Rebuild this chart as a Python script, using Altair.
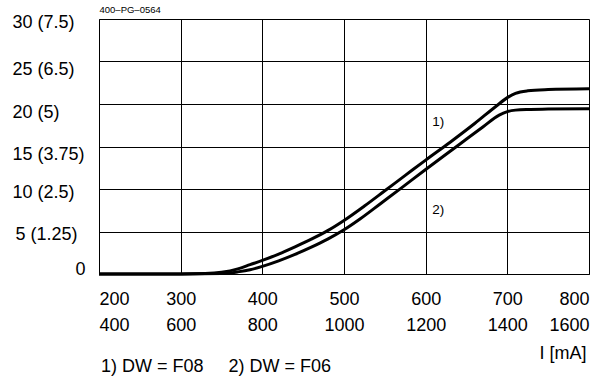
import altair as alt
import pandas as pd

# Curve 1) DW = F08 (upper)
I1 = [200, 300, 330, 350, 370, 385, 400, 420, 440, 460, 480, 500, 525, 550, 575, 600, 630, 660, 687, 700, 710, 725, 750, 800]
V1 = [0, 0, 0.05, 0.2, 0.6, 1.1, 1.6, 2.35, 3.2, 4.1, 5.1, 6.3, 8.0, 9.8, 11.6, 13.4, 15.5, 17.7, 19.8, 20.75, 21.25, 21.55, 21.7, 21.8]
# Curve 2) DW = F06 (lower)
I2 = [200, 300, 350, 370, 385, 400, 420, 440, 460, 480, 500, 520, 545, 570, 600, 642, 670, 690, 700, 710, 725, 750, 800]
V2 = [0, 0, 0.05, 0.25, 0.5, 0.9, 1.55, 2.3, 3.15, 4.1, 5.2, 6.5, 8.3, 10.1, 12.3, 15.3, 17.3, 18.7, 19.1, 19.28, 19.36, 19.4, 19.45]

x_ticks = [200, 300, 400, 500, 600, 700, 800]
x_ticks2 = ["400", "600", "800", "1000", "1200", "1400", "1600"]
y_ticks = [0, 5, 10, 15, 20, 25, 30]
y_labels = ["0", "5 (1.25)", "10 (2.5)", "15 (3.75)", "20 (5)", "25 (6.5)", "30 (7.5)"]

ann_text = ["1)", "2)"]
ann_I = [608, 608]
ann_V = [17.9, 7.5]

legend_text = "1) DW = F08\u00a0\u00a0\u00a0\u00a0 2) DW = F06"
code_text = "400\u2013PG\u20130564"
x_title = "I [mA]"

df = pd.concat([
    pd.DataFrame({"I": I1, "V": V1, "curve": "1"}),
    pd.DataFrame({"I": I2, "V": V2, "curve": "2"}),
])
ann = pd.DataFrame({"I": ann_I, "V": ann_V, "t": ann_text})

x_expr = ""
for a, b in zip(x_ticks, x_ticks2):
    x_expr += f"datum.value == {a} ? ['{a}', '{b}'] : "
x_expr += "''"
y_expr = ""
for a, b in zip(y_ticks, y_labels):
    y_expr += f"datum.value == {a} ? '{b}' : "
y_expr += "''"

FONT = "Liberation Sans"

x_scale = alt.Scale(domain=[200, 800], nice=False, zero=False)
y_scale = alt.Scale(domain=[0, 30], nice=False)

x_axis = alt.Axis(
    values=x_ticks, labelExpr=x_expr, grid=True, gridColor="#000", gridWidth=1,
    ticks=False, tickSize=0, domainColor="#000", domainWidth=1,
    labelFont=FONT, labelFontSize=18, labelColor="#000", labelFlush=True, labelFlushOffset=0,
    labelPadding=16, labelLineHeight=26, labelBaseline="top",
    title=x_title, titleFont=FONT, titleFontSize=18, titleFontWeight="normal", titleColor="#000",
    titleX=487, titleY=84, titleAlign="right", titleBaseline="alphabetic", titleAnchor="end",
)
y_axis = alt.Axis(
    values=y_ticks, labelExpr=y_expr, grid=True, gridColor="#000", gridWidth=1,
    ticks=False, tickSize=0, domainColor="#000", domainWidth=1,
    labelFont=FONT, labelFontSize=18, labelColor="#000",
    labelAlign={"condition": {"test": "datum.value == 0", "value": "right"}, "value": "left"},
    labelPadding={"condition": [{"test": "datum.value == 0", "value": 14},
                                {"test": "datum.value == 5", "value": 84}], "value": 87},
    labelOffset={"condition": [{"test": "datum.value == 0", "value": -5},
                               {"test": "datum.value >= 15 && datum.value <= 25", "value": 8}], "value": 3},
    labelBaseline="middle",
    title=code_text, titleFont=FONT, titleFontSize=9.5, titleFontWeight="normal", titleColor="#000",
    titleAngle=0, titleX=0, titleY=-7, titleAlign="left", titleBaseline="alphabetic",
)

lines = alt.Chart(df).mark_line(color="#000", strokeWidth=3, interpolate="monotone").encode(
    x=alt.X("I:Q", scale=x_scale, axis=x_axis),
    y=alt.Y("V:Q", scale=y_scale, axis=y_axis),
    detail="curve:N",
)
texts = alt.Chart(ann).mark_text(align="left", baseline="middle", font=FONT, fontSize=13.5, color="#000").encode(
    x=alt.X("I:Q", scale=x_scale),
    y=alt.Y("V:Q", scale=y_scale),
    text="t:N",
)

chart = alt.layer(lines, texts).properties(
    width=490, height=255,
    title=alt.TitleParams(legend_text, orient="bottom", anchor="start", frame="group", offset=-4,
                          fontSize=18, fontWeight="normal", font=FONT, color="#000", baseline="top", dx=2),
    autosize=alt.AutoSizeParams(type="none"),
    padding={"left": 99, "top": 19, "right": 7, "bottom": 106},
).configure_view(stroke="#000", strokeWidth=1).configure(background="white")

chart.save("out.html", embed_options={"renderer": "svg", "actions": False})
